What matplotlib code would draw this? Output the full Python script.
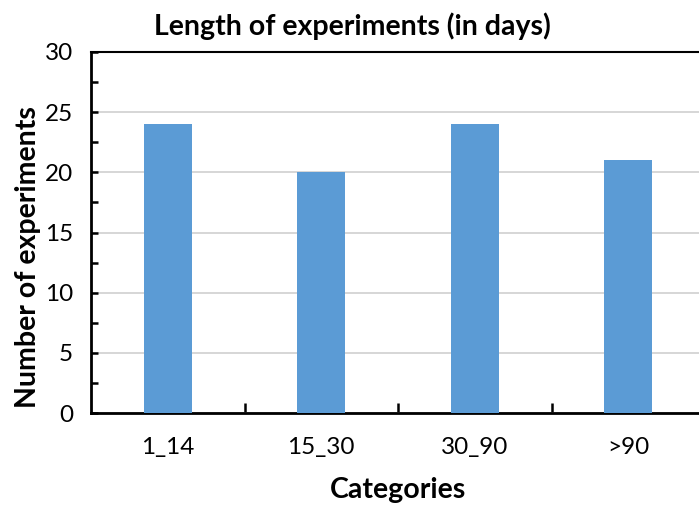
import matplotlib
matplotlib.use("Agg")
import matplotlib.pyplot as plt
from matplotlib.ticker import MultipleLocator, FixedLocator, NullFormatter

categories = ["1_14", "15_30", "30_90", ">90"]
counts = [24, 20, 24, 21]
y_ticks = [0, 5, 10, 15, 20, 25, 30]

plt.rcParams["font.family"] = ["Lato", "DejaVu Sans"]

fig = plt.figure(figsize=(6.99, 5.08), dpi=100)
ax = fig.add_axes([91 / 699, 95 / 508, 614 / 699, 361 / 508])

x = range(len(categories))
ax.bar(x, counts, width=0.31, color="#5B9BD5", zorder=3)

ax.set_xlim(-0.5, len(categories) - 0.5)
ax.set_ylim(0, 30)
ax.set_yticks(y_ticks)
ax.yaxis.set_minor_locator(MultipleLocator(2.5))
ax.set_xticks(list(x))
ax.set_xticklabels(categories)
ax.xaxis.set_minor_locator(FixedLocator([i + 0.5 for i in range(len(categories) - 1)]))
ax.xaxis.set_minor_formatter(NullFormatter())

ax.grid(axis="y", color="#D0D0D0", linewidth=1.2, zorder=0)
ax.tick_params(axis="y", which="both", direction="in", length=5, width=1.8,
               labelsize=17.5, pad=13, colors="black")
ax.tick_params(axis="x", which="major", length=0, labelsize=17.5, pad=17)
ax.tick_params(axis="x", which="minor", direction="in", length=7, width=1.8)

for side in ("left", "bottom"):
    ax.spines[side].set_linewidth(2)
ax.spines["top"].set_linewidth(1.5)
ax.spines["right"].set_visible(False)

ax.set_title("Length of experiments (in days)", fontsize=20.5, fontweight="bold",
             pad=12, x=(352 - 91) / 614)
ax.set_ylabel("Number of experiments", fontsize=20.5, fontweight="bold")
ax.yaxis.set_label_coords(-(91 - 28) / 614, (413 - 257) / 361)
ax.set_xlabel("Categories", fontsize=20.5, fontweight="bold")
ax.xaxis.set_label_coords((398 - 91) / 614, -(490 - 413) / 361)
ax.xaxis.label.set_va("center")
ax.yaxis.label.set_va("center")

fig.savefig("out.png", dpi=100)
